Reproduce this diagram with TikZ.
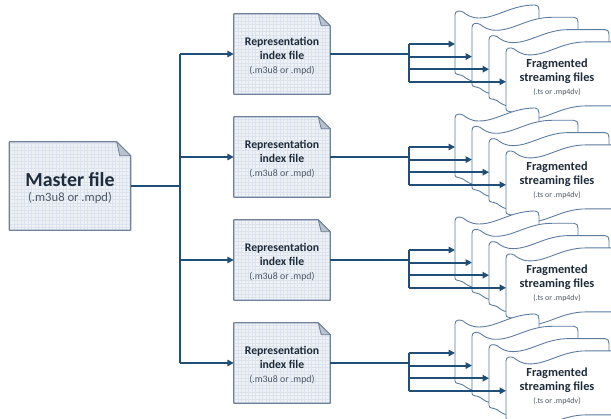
\documentclass[tikz,border=0pt]{standalone}
\usepackage{fontspec}
\setmainfont{Carlito}
\usetikzlibrary{arrows.meta,calc}
\definecolor{conn}{HTML}{1F4E79}
\definecolor{boxfill}{HTML}{EEF2F7}
\definecolor{boxgrid}{HTML}{DCE3EC}
\definecolor{boxline}{HTML}{71839A}
\definecolor{foldfill}{HTML}{B9C1CC}
\definecolor{docline}{HTML}{5B7BA0}
\definecolor{titletext}{HTML}{1E2B3A}
\definecolor{subtext}{HTML}{4F5966}

% folded-corner file box drawn around a named node
\newcommand\foldbox[2]{% node name, fold size
  \path let \p1=(#1.north west), \p2=(#1.south east) in
    coordinate (#1-a) at (\x1,\y1) coordinate (#1-b) at (\x2,\y2);
  \begin{scope}
    \clip ($(#1-a)$) -- ($(#1-b|-#1-a)+(-#2,0)$) -- ($(#1-b|-#1-a)+(0,#2)$) -- (#1-b) -- (#1-a|-#1-b) -- cycle;
    \fill[boxfill] (#1-a) rectangle (#1-b);
    \begin{scope}[y=0.03cm]
      \draw[boxgrid,line width=0.2pt,step=3.5] ($(#1-a|-#1-b)+(-4,-4)$) grid ($(#1-b|-#1-a)+(4,4)$);
    \end{scope}
  \end{scope}
  \draw[boxline,line width=0.9pt,line join=round] (#1-a) -- ($(#1-b|-#1-a)+(-#2,0)$) -- ($(#1-b|-#1-a)+(0,#2)$) -- (#1-b) -- (#1-a|-#1-b) -- cycle;
  \draw[boxline,fill=foldfill,line width=0.7pt,line join=round] ($(#1-b|-#1-a)+(-#2,0)$) -- ($(#1-b|-#1-a)+(-#2+3,#2)$) -- ($(#1-b|-#1-a)+(0,#2)$) -- cycle;
}

% punched-tape document: left x, top y, width, height
\newcommand\tapedoc[4]{%
  \draw[docline,fill=white,line width=0.75pt,line join=round]
    ({#1},{#2+2}) .. controls ({#1},{#2-2}) and ({#1+4},{#2-3}) .. ({#1+8},{#2-1})
    .. controls ({#1+12},{#2+2}) and ({#1+16},{#2+5}) .. ({#1+24},{#2+5})
    .. controls ({#1+42},{#2+5}) and ({#1+56},{#2-8}) .. ({#1+80},{#2-8})
    -- ({#1+#3-4},{#2-8}) .. controls ({#1+#3-1},{#2-8}) and ({#1+#3},{#2-6}) .. ({#1+#3},{#2-3})
    -- ({#1+#3},{#2-8+#4}) -- ({#1+80},{#2-8+#4})
    .. controls ({#1+56},{#2-8+#4}) and ({#1+42},{#2+5+#4}) .. ({#1+24},{#2+5+#4})
    .. controls ({#1+16},{#2+5+#4}) and ({#1+12},{#2+2+#4}) .. ({#1+8},{#2-1+#4})
    .. controls ({#1+4},{#2-3+#4}) and ({#1},{#2-2+#4}) .. ({#1},{#2+#4-5}) -- cycle;
}

\tikzset{
  conline/.style={conn,line width=1.6pt},
  conarrow/.style={conn,line width=1.6pt,-{Triangle[length=5.5pt,width=5.5pt]}},
  filebox/.style={inner sep=0pt,align=center},
  fragtext/.style={align=center,text=titletext,font=\bfseries\fontsize{10.5}{12.5}\selectfont},
}

\begin{document}
\begin{tikzpicture}[x=0.03cm,y=-0.03cm]
\clip (0,0) rectangle (611,419);
\fill[white] (0,0) rectangle (611,419);

% master
\node[filebox,minimum width=121*0.03cm,minimum height=88*0.03cm] (master) at (70,186) {};
\foldbox{master}{14}
\node[align=center,text=titletext] (mastertxt) at (70,188)
  {{\bfseries\fontsize{17}{20}\selectfont Master file}\\[1pt]
   {\color{subtext}\fontsize{10.8}{13}\selectfont (.m3u8 or .mpd)}};

\coordinate (bus) at (180,186);
\draw[conline] (master.east) -- (bus);
\coordinate (bustop) at (180,54);
\coordinate (busbot) at (180,363);
\draw[conline] (bustop) -- (busbot);

\foreach \i/\c in {1/54,2/157,3/260,4/363}{
  \node[filebox,minimum width=96*0.03cm,minimum height=80*0.03cm] (rep\i) at (282,\c) {};
  \foldbox{rep\i}{12}
  \node[align=center,text=titletext,font=\bfseries\fontsize{10}{12.5}\selectfont] (reptxt\i) at (282,{\c+2})
    {Representation\\index file\\[-1pt]{\mdseries\color{subtext}\fontsize{8.4}{10}\selectfont (.m3u8 or .mpd)}};
  \coordinate (b\i) at (180,\c);
  \draw[conarrow] (b\i) -- (rep\i.west);
  % second bus
  \coordinate (s\i) at (409,\c);
  \draw[conline] (rep\i.east) -- (s\i);
  \coordinate (st\i) at (409,{\c-10});
  \coordinate (sb\i) at (409,{\c+28});
  \draw[conline] (st\i) -- (sb\i);
  % documents
  \foreach \k/\w in {0/84,1/106,2/120,3/115}{
    \pgfmathsetmacro\L{455+17*\k}
    \pgfmathsetmacro\T{\c-41+12.3*\k}
    \tapedoc{\L}{\T}{\w}{64}
    \coordinate (d\i\k) at (\L,{\c-10+12.6*\k});
  }
  \foreach \k in {0,1,2,3}{
    \coordinate (a\i\k) at (409,{\c-10+12.6*\k});
    \draw[conarrow] (a\i\k) -- (d\i\k);
  }
  \node[fragtext] (frag\i) at (557,{\c+23}) {Fragmented\\streaming files\\[-2pt]{\mdseries\color{subtext}\fontsize{6.8}{8}\selectfont (.ts or .mp4dv)}};
}
\end{tikzpicture}
\end{document}
